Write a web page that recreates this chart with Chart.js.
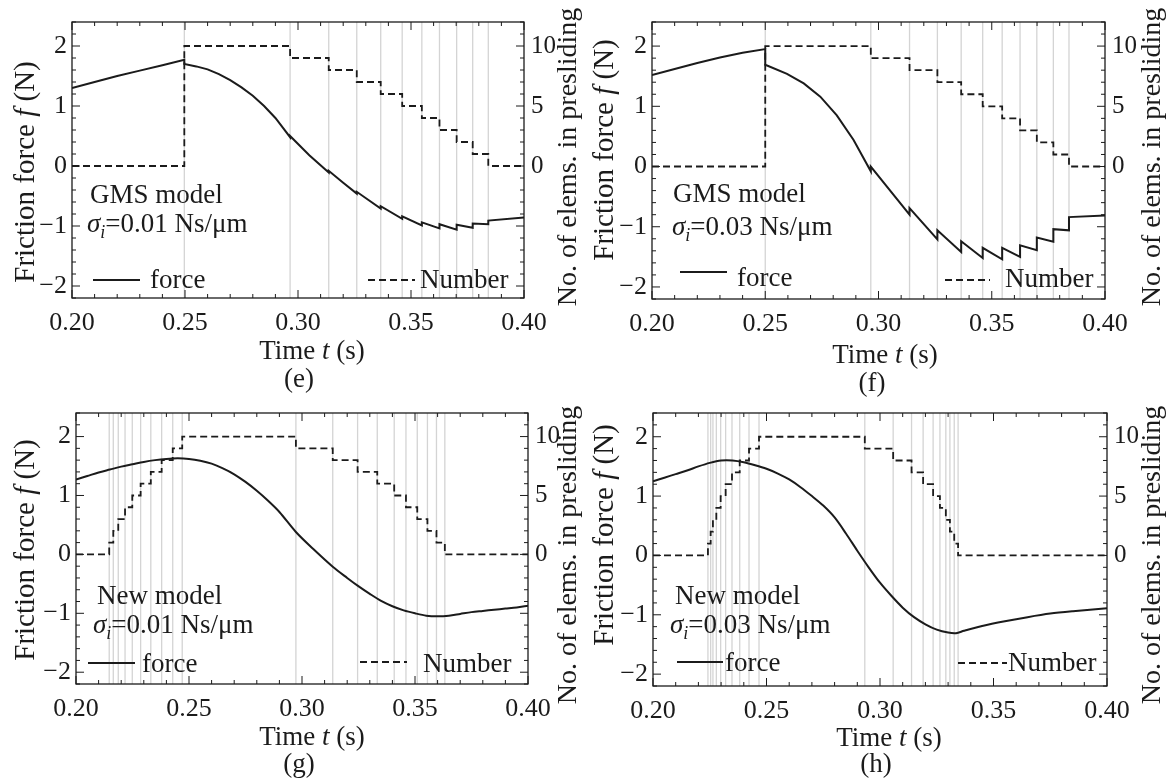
<!DOCTYPE html>
<html>
<head>
<meta charset="utf-8">
<title>Friction force and number of presliding elements</title>
<script src="https://cdn.jsdelivr.net/npm/chart.js@4.4.1/dist/chart.umd.min.js"></script>
<style>
  html, body { margin: 0; padding: 0; background: #fff; }
  body { position: relative; width: 1169px; height: 783px; overflow: hidden; }
  canvas { position: absolute; }
</style>
</head>
<body>
<canvas id="pe" width="584" height="400" style="left:0;top:0"></canvas>
<canvas id="pf" width="585" height="400" style="left:584px;top:0"></canvas>
<canvas id="pg" width="584" height="392" style="left:0;top:391px"></canvas>
<canvas id="ph" width="585" height="392" style="left:584px;top:391px"></canvas>
<script>
// axes shared by the four panels
var timeTicks = [0.20, 0.25, 0.30, 0.35, 0.40];
var forceTicks = [-2, -1, 0, 1, 2];
var numberTicks = [0, 5, 10];

// number of elements in presliding: value before the first switch, then after each switch
var gmsCount = [0, 10, 9, 8, 7, 6, 5, 4, 3, 2, 1, 0];
var newCount = [0, 1, 2, 3, 4, 5, 6, 7, 8, 9, 10, 9, 8, 7, 6, 5, 4, 3, 2, 1, 0];

// (e) GMS model, sigma_i = 0.01
var eSwitch = [0.2497, 0.2965, 0.3136, 0.3260, 0.3366, 0.3461, 0.3548, 0.3626, 0.3702, 0.3773, 0.3842];
var eTime = [0.200, 0.210, 0.220, 0.230, 0.240, 0.2497, 0.2497, 0.255, 0.260, 0.265, 0.270, 0.275, 0.280, 0.285, 0.290,
  0.2965, 0.2965, 0.305, 0.3136, 0.3136, 0.320, 0.3260, 0.3260, 0.3366, 0.3366, 0.3461, 0.3461, 0.3548, 0.3548,
  0.3626, 0.3626, 0.3702, 0.3702, 0.3773, 0.3773, 0.3842, 0.3842, 0.400];
var eForce = [1.30, 1.40, 1.50, 1.59, 1.68, 1.77, 1.70, 1.66, 1.61, 1.53, 1.43, 1.31, 1.17, 1.00, 0.80,
  0.48, 0.50, 0.18, -0.11, -0.08, -0.28, -0.46, -0.43, -0.71, -0.67, -0.88, -0.84, -0.99, -0.94,
  -1.04, -0.97, -1.06, -0.98, -1.03, -0.96, -0.97, -0.91, -0.86];

// (f) GMS model, sigma_i = 0.03
var fSwitch = [0.2500, 0.2966, 0.3137, 0.3260, 0.3365, 0.3460, 0.3546, 0.3625, 0.3699, 0.3772, 0.3841];
var fTime = [0.200, 0.210, 0.220, 0.230, 0.240, 0.2500, 0.2500, 0.2596, 0.267, 0.2743, 0.2816, 0.289,
  0.2966, 0.2966, 0.3137, 0.3137, 0.3260, 0.3260, 0.3365, 0.3365, 0.3460, 0.3460, 0.3546, 0.3546,
  0.3625, 0.3625, 0.3699, 0.3699, 0.3772, 0.3772, 0.3841, 0.3841, 0.400];
var fForce = [1.52, 1.62, 1.72, 1.81, 1.89, 1.95, 1.69, 1.54, 1.38, 1.16, 0.85, 0.44,
  -0.08, 0.00, -0.80, -0.69, -1.21, -1.06, -1.42, -1.24, -1.52, -1.35, -1.54, -1.35,
  -1.50, -1.31, -1.39, -1.18, -1.25, -1.04, -1.06, -0.84, -0.815];

// (g) new model, sigma_i = 0.01
var gSwitch = [0.2147, 0.2165, 0.2187, 0.2217, 0.2249, 0.2286, 0.2331, 0.2379, 0.2428, 0.2470,
  0.2973, 0.3136, 0.3246, 0.3333, 0.3408, 0.3460, 0.3510, 0.3555, 0.3595, 0.3632];
var gTime = [0.200, 0.205, 0.210, 0.215, 0.220, 0.225, 0.230, 0.235, 0.240, 0.245, 0.250, 0.255, 0.260, 0.265,
  0.270, 0.275, 0.280, 0.285, 0.290, 0.2973, 0.305, 0.3136, 0.320, 0.3246, 0.330, 0.335, 0.340, 0.345,
  0.350, 0.355, 0.360, 0.365, 0.370, 0.375, 0.380, 0.385, 0.390, 0.395, 0.400];
var gForce = [1.27, 1.33, 1.39, 1.44, 1.49, 1.53, 1.57, 1.60, 1.62, 1.63, 1.62, 1.59, 1.54, 1.46,
  1.36, 1.23, 1.08, 0.91, 0.72, 0.38, 0.09, -0.21, -0.40, -0.53, -0.67, -0.79, -0.88, -0.95,
  -1.00, -1.04, -1.05, -1.04, -1.01, -0.98, -0.96, -0.94, -0.92, -0.90, -0.87];

// (h) new model, sigma_i = 0.03
var hSwitch = [0.2242, 0.2254, 0.2264, 0.2279, 0.2298, 0.2320, 0.2348, 0.2382, 0.2423, 0.2467,
  0.2933, 0.3058, 0.3139, 0.3190, 0.3234, 0.3264, 0.3290, 0.3308, 0.3327, 0.3344];
var hTime = [0.200, 0.205, 0.210, 0.215, 0.220, 0.225, 0.230, 0.235, 0.240, 0.245, 0.250, 0.255, 0.260, 0.265,
  0.270, 0.275, 0.280, 0.285, 0.290, 0.295, 0.300, 0.305, 0.310, 0.315, 0.320, 0.325, 0.330, 0.3335,
  0.337, 0.345, 0.355, 0.365, 0.375, 0.385, 0.400];
var hForce = [1.25, 1.31, 1.37, 1.43, 1.50, 1.56, 1.60, 1.60, 1.57, 1.52, 1.46, 1.38, 1.28, 1.15,
  1.00, 0.84, 0.64, 0.37, 0.08, -0.20, -0.46, -0.68, -0.88, -1.04, -1.16, -1.25, -1.30, -1.31,
  -1.27, -1.19, -1.11, -1.04, -0.98, -0.94, -0.89];

var SERIF = '"Liberation Serif", "Times New Roman", Times, serif';
var INK = '#1b1b1b';
Chart.defaults.font.family = SERIF;
Chart.defaults.color = INK;

function fontFor(r, size) {
  return (r.it ? 'italic ' : '') + Math.round(r.sub ? size * 0.68 : size) + 'px ' + SERIF;
}

// draw a line of text made of runs (plain / italic / subscript)
function drawRuns(ctx, runs, x, y, size, align, vertical) {
  ctx.save();
  ctx.translate(x, y);
  if (vertical) ctx.rotate(-Math.PI / 2);
  var w = 0;
  runs.forEach(function (r) { ctx.font = fontFor(r, size); w += ctx.measureText(r.t).width; });
  var cx = align === 'center' ? -w / 2 : 0;
  var dy = vertical ? size * 0.33 : 0;
  ctx.fillStyle = INK;
  ctx.textAlign = 'left';
  ctx.textBaseline = 'alphabetic';
  runs.forEach(function (r) {
    ctx.font = fontFor(r, size);
    ctx.fillText(r.t, cx, dy + (r.sub ? size * 0.22 : 0));
    cx += ctx.measureText(r.t).width;
  });
  ctx.restore();
}

var forceTitle = [{t: 'Friction force '}, {t: 'f', it: true}, {t: ' (N)'}];
var countTitle = [{t: 'No. of elems. in presliding'}];
var timeTitle = [{t: 'Time '}, {t: 't', it: true}, {t: ' (s)'}];
function sigmaRuns(v) { return [{t: 'σ', it: true}, {t: 'i', it: true, sub: true}, {t: '=' + v + ' Ns/μm'}]; }

function makePanel(id, p) {
  var ox = p.origin[0], oy = p.origin[1];
  var steps = [{x: 0.2, y: p.count[0]}];
  p.switchT.forEach(function (t, i) { steps.push({x: t, y: p.count[i + 1]}); });
  steps.push({x: 0.4, y: p.count[p.count.length - 1]});
  var force = p.time.map(function (t, i) { return {x: t, y: p.force[i]}; });
  var marks = [];
  p.switchT.forEach(function (t) { marks.push({x: t, y: -12}, {x: t, y: 13}, {x: t, y: null}); });

  var paper = {
    id: 'paper',
    afterDatasetsDraw: function (chart) {
      var ctx = chart.ctx, a = chart.chartArea;
      var sx = chart.scales.x, sy = chart.scales.y, s2 = chart.scales.y2;
      ctx.save();
      ctx.strokeStyle = INK;
      ctx.lineWidth = 1.3;
      ctx.strokeRect(a.left, a.top, a.right - a.left, a.bottom - a.top);
      ctx.lineWidth = 1;
      ctx.beginPath();
      var k, px, len;
      for (k = 20; k <= 40; k++) {
        px = sx.getPixelForValue(k / 100);
        len = k % 5 === 0 ? 8 : 4;
        ctx.moveTo(px, a.bottom); ctx.lineTo(px, a.bottom - len);
        ctx.moveTo(px, a.top); ctx.lineTo(px, a.top + len);
      }
      for (k = -11; k <= 12; k++) {
        px = sy.getPixelForValue(k / 5);
        len = k % 5 === 0 ? 8 : 4;
        ctx.moveTo(a.left, px); ctx.lineTo(a.left + len, px);
        px = s2.getPixelForValue(k);
        len = k % 5 === 0 ? 8 : 4;
        ctx.moveTo(a.right, px); ctx.lineTo(a.right - len, px);
      }
      ctx.stroke();
      ctx.restore();
    },
    afterDraw: function (chart) {
      var ctx = chart.ctx;
      drawRuns(ctx, forceTitle, p.leftTitle[0] - ox, p.leftTitle[1] - oy, 29, 'center', true);
      drawRuns(ctx, countTitle, p.rightTitle[0] - ox, p.rightTitle[1] - oy, 28, 'center', true);
      drawRuns(ctx, timeTitle, p.timeTitle[0] - ox, p.timeTitle[1] - oy, 27, 'center', false);
      drawRuns(ctx, [{t: p.tag}], p.tagPos[0] - ox, p.tagPos[1] - oy, 27, 'center', false);
      drawRuns(ctx, [{t: p.model}], p.modelPos[0] - ox, p.modelPos[1] - oy, 27, 'left', false);
      drawRuns(ctx, sigmaRuns(p.sigma), p.sigmaPos[0] - ox, p.sigmaPos[1] - oy, 27, 'left', false);
      // legend
      var ds = chart.data.datasets;
      [[0, p.legForce], [1, p.legNumber]].forEach(function (it) {
        var d = ds[it[0]], L = it[1];
        ctx.save();
        ctx.strokeStyle = d.borderColor;
        ctx.lineWidth = d.borderWidth;
        ctx.setLineDash(d.borderDash || []);
        ctx.beginPath();
        ctx.moveTo(L[0] - ox, L[2] - oy);
        ctx.lineTo(L[1] - ox, L[2] - oy);
        ctx.stroke();
        ctx.restore();
        drawRuns(ctx, [{t: d.label}], L[3] - ox, L[4] - oy, 27, 'left', false);
      });
    }
  };

  return new Chart(document.getElementById(id), {
    type: 'line',
    data: {
      datasets: [
        {label: 'force', data: force, borderColor: INK, borderWidth: 2, pointRadius: 0,
          tension: p.tension, yAxisID: 'y', order: 0},
        {label: 'Number', data: steps, borderColor: INK, borderWidth: 1.8, borderDash: [7, 4],
          stepped: 'before', pointRadius: 0, yAxisID: 'y2', order: 1},
        {label: 'switch', data: marks, borderColor: '#d4d4d4', borderWidth: 1.3, pointRadius: 0,
          spanGaps: false, yAxisID: 'y2', order: 2}
      ]
    },
    options: {
      responsive: false,
      animation: false,
      events: [],
      layout: {padding: {top: p.top, left: 0, right: 0, bottom: 0}},
      plugins: {legend: {display: false}, tooltip: {enabled: false}},
      scales: {
        x: {
          type: 'linear', min: 0.2, max: 0.4,
          afterBuildTicks: function (s) { s.ticks = timeTicks.map(function (v) { return {value: v}; }); },
          afterFit: function (s) { s.height = p.xh; },
          grid: {display: false, drawTicks: false}, border: {display: false},
          ticks: {font: {size: 26}, padding: 10, maxRotation: 0, autoSkip: false,
            callback: function (v) { return v.toFixed(2); }}
        },
        y: {
          position: 'left', min: -2.2, max: 2.4,
          afterBuildTicks: function (s) { s.ticks = forceTicks.map(function (v) { return {value: v}; }); },
          afterFit: function (s) { s.width = p.yw; },
          grid: {display: false, drawTicks: false}, border: {display: false},
          ticks: {font: {size: 26}, padding: 5,
            callback: function (v) { return String(v).replace('-', '−'); }}
        },
        y2: {
          position: 'right', min: -11, max: 12,
          afterBuildTicks: function (s) { s.ticks = numberTicks.map(function (v) { return {value: v}; }); },
          afterFit: function (s) { s.width = p.y2w; },
          grid: {display: false, drawTicks: false}, border: {display: false},
          ticks: {font: {size: 25}, padding: 7}
        }
      }
    },
    plugins: [paper]
  });
}

makePanel('pe', {
  origin: [0, 0], yw: 72, top: 18, y2w: 60, xh: 102,
  switchT: eSwitch, count: gmsCount, time: eTime, force: eForce, tension: 0,
  leftTitle: [24, 172], rightTitle: [567, 157], timeTitle: [312, 359], tag: '(e)', tagPos: [299, 387],
  model: 'GMS model', modelPos: [90, 203], sigma: '0.01', sigmaPos: [87, 232],
  legForce: [93, 140, 280, 150, 288], legNumber: [368, 415, 280, 420, 288]
});
makePanel('pf', {
  origin: [584, 0], yw: 68, top: 22, y2w: 64, xh: 101,
  switchT: fSwitch, count: gmsCount, time: fTime, force: fForce, tension: 0,
  leftTitle: [603, 150], rightTitle: [1151, 157], timeTitle: [885, 363], tag: '(f)', tagPos: [872, 391],
  model: 'GMS model', modelPos: [673, 202], sigma: '0.03', sigmaPos: [672, 235],
  legForce: [680, 727, 272, 737, 286], legNumber: [945, 990, 280, 1005, 287]
});
makePanel('pg', {
  origin: [0, 391], yw: 76, top: 14, y2w: 56, xh: 99,
  switchT: gSwitch, count: newCount, time: gTime, force: gForce, tension: 0.3,
  leftTitle: [24, 550], rightTitle: [567, 555], timeTitle: [312, 745], tag: '(g)', tagPos: [299, 772],
  model: 'New model', modelPos: [97, 604], sigma: '0.01', sigmaPos: [93, 633],
  legForce: [88, 135, 663, 142, 672], legNumber: [360, 407, 662, 423, 672]
});
makePanel('ph', {
  origin: [584, 391], yw: 69, top: 16, y2w: 62, xh: 97,
  switchT: hSwitch, count: newCount, time: hTime, force: hForce, tension: 0.3,
  leftTitle: [603, 535], rightTitle: [1151, 555], timeTitle: [889, 746], tag: '(h)', tagPos: [876, 772],
  model: 'New model', modelPos: [675, 604], sigma: '0.03', sigmaPos: [670, 633],
  legForce: [677, 723, 662, 725, 671], legNumber: [958, 1007, 663, 1008, 671]
});
</script>
</body>
</html>
